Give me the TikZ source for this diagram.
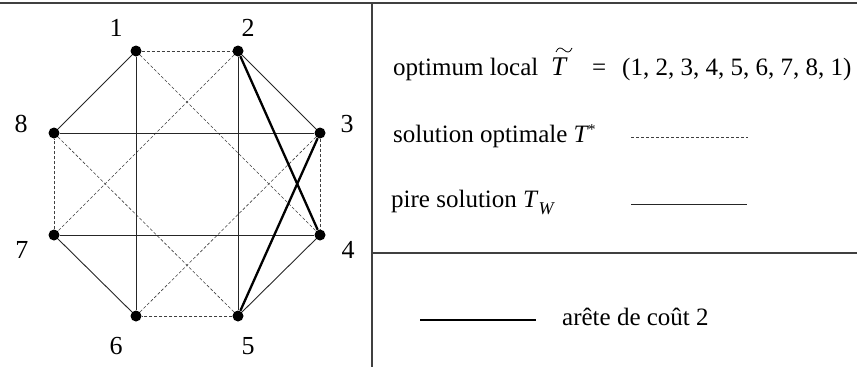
\documentclass[tikz,border=0pt]{standalone}
\usepackage{fontspec}
\setmainfont{Liberation Serif}
\begin{document}
\begin{tikzpicture}[x=1pt,y=-1pt,
  vtx/.style={circle,fill=black,inner sep=0pt,minimum size=11pt},
  lbl/.style={font=\fontsize{26}{30}\selectfont,inner sep=0pt},
  txt/.style={font=\fontsize{25}{30}\selectfont,anchor=base west,inner sep=0pt},
  solidedge/.style={line width=0.9pt,black!85},
  dashedge/.style={line width=0.6pt,black!75,dash pattern=on 3pt off 2pt},
  costedge/.style={line width=2.3pt,black},
  frame/.style={line width=1.1pt,black!75}]
\useasboundingbox (0,0) rectangle (857,367);
% frame
\coordinate (ftl) at (0,3);
\coordinate (ftr) at (857,3);
\coordinate (fvt) at (372,3);
\coordinate (fvb) at (372,367);
\coordinate (fml) at (372,253);
\coordinate (fmr) at (857,253);
\draw[frame] (ftl) -- (ftr);
\draw[frame] (fvt) -- (fvb);
\draw[frame] (fml) -- (fmr);
% vertices
\node[vtx] (v1) at (136,51) {};
\node[vtx] (v2) at (238,51) {};
\node[vtx] (v3) at (320,133) {};
\node[vtx] (v4) at (320,235) {};
\node[vtx] (v5) at (238,316) {};
\node[vtx] (v6) at (136,316) {};
\node[vtx] (v7) at (54,235) {};
\node[vtx] (v8) at (54,133) {};
% labels
\node[lbl] (l1) at (116,28) {1};
\node[lbl] (l2) at (248,28) {2};
\node[lbl] (l3) at (347,124) {3};
\node[lbl] (l4) at (348,250) {4};
\node[lbl] (l5) at (248,346) {5};
\node[lbl] (l6) at (116,346) {6};
\node[lbl] (l7) at (22,250) {7};
\node[lbl] (l8) at (21,124) {8};
% dashed edges
\draw[dashedge] (v1) -- (v2);
\draw[dashedge] (v3) -- (v4);
\draw[dashedge] (v5) -- (v6);
\draw[dashedge] (v7) -- (v8);
\draw[dashedge] (v1) -- (v4);
\draw[dashedge] (v2) -- (v7);
\draw[dashedge] (v8) -- (v5);
\draw[dashedge] (v6) -- (v3);
% solid edges
\draw[solidedge] (v2) -- (v3);
\draw[solidedge] (v4) -- (v5);
\draw[solidedge] (v6) -- (v7);
\draw[solidedge] (v8) -- (v1);
\draw[solidedge] (v1) -- (v6);
\draw[solidedge] (v2) -- (v5);
\draw[solidedge] (v8) -- (v3);
\draw[solidedge] (v7) -- (v4);
% cost-2 edges
\draw[costedge] (v2) -- (v4);
\draw[costedge] (v3) -- (v5);
% legend texts
\node[txt] (t1) at (393,75) {optimum local};
\node[txt,font=\fontsize{27}{30}\selectfont] (tT) at (551,75) {\itshape T};
\draw[line width=0.8pt] (556,52) .. controls (558,47) and (561,47) .. (564,50) .. controls (567,53) and (570,53) .. (572,48);
\node[txt] (teq) at (592,75) {=};
\node[txt] (tseq) at (622,75) {(1, 2, 3, 4, 5, 6, 7, 8, 1)};
\node[txt] (t2) at (393,142) {solution optimale \textit{T}\hspace{-1pt}\raisebox{8pt}{\fontsize{15}{18}\selectfont *}};
\node[txt] (t3) at (391,207) {pire solution \textit{T}\raisebox{-7pt}{\fontsize{18}{20}\selectfont\textit{W}}};
\node[txt] (t4) at (562,325) {arête de coût 2};
% legend lines
\coordinate (d1) at (631,137);
\coordinate (d2) at (748,137);
\coordinate (s1) at (631,204);
\coordinate (s2) at (747,204);
\coordinate (c1) at (420,320);
\coordinate (c2) at (536,320);
\draw[dashedge] (d1) -- (d2);
\draw[solidedge] (s1) -- (s2);
\draw[costedge] (c1) -- (c2);
\end{tikzpicture}
\end{document}
